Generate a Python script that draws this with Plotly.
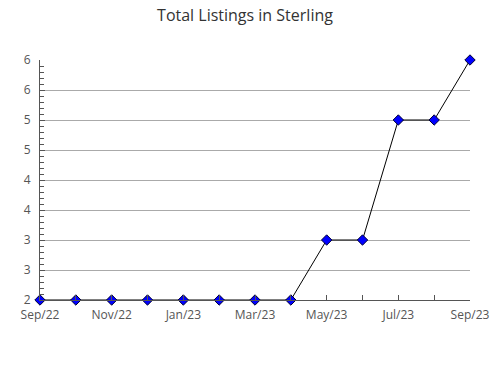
import plotly.graph_objects as go

months = ["Sep/22", "Oct/22", "Nov/22", "Dec/22", "Jan/23", "Feb/23", "Mar/23",
          "Apr/23", "May/23", "Jun/23", "Jul/23", "Aug/23", "Sep/23"]
listings = [2, 2, 2, 2, 2, 2, 2, 2, 3, 3, 5, 5, 6]
y_ticks = [2, 2.5, 3, 3.5, 4, 4.5, 5, 5.5, 6]
y_labels = ["2", "3", "3", "4", "4", "5", "5", "6", "6"]

x_idx = list(range(len(months)))
x_labels = [m if i % 2 == 0 else "" for i, m in enumerate(months)]

fig = go.Figure(go.Scatter(
    x=x_idx, y=listings, mode="lines+markers",
    line=dict(color="black", width=1),
    marker=dict(symbol="diamond", size=8, color="#0000ff",
                line=dict(color="#000033", width=1)),
    cliponaxis=False,
))

fig.update_layout(
    width=490, height=380,
    margin=dict(l=40, r=20, t=60, b=80, autoexpand=False),
    plot_bgcolor="white", paper_bgcolor="white",
    font=dict(family="Open Sans", color="#555", size=12),
    title=dict(text="Total Listings in Sterling", x=0.5, xanchor="center",
               y=0.96, yanchor="middle",
               font=dict(size=16, color="#333")),
    showlegend=False,
)
fig.update_xaxes(
    range=[0, 12], tickvals=x_idx, ticktext=x_labels,
    ticks="inside", ticklen=5, tickcolor="#555",
    showline=True, linecolor="#555", linewidth=1,
    showgrid=False, zeroline=False, automargin=False,
    ticklabelstandoff=4,
)
fig.update_yaxes(
    range=[2, 6], tickvals=y_ticks, ticktext=y_labels,
    ticks="inside", ticklen=5, tickcolor="#555",
    showline=True, linecolor="#555", linewidth=1,
    showgrid=True, gridcolor="#aaaaaa", gridwidth=1, zeroline=False,
    automargin=False, ticklabelstandoff=6,
    minor=dict(dtick=0.1, ticks="inside", ticklen=4, tickcolor="#555", showgrid=False),
)

fig.write_html("out.html")
